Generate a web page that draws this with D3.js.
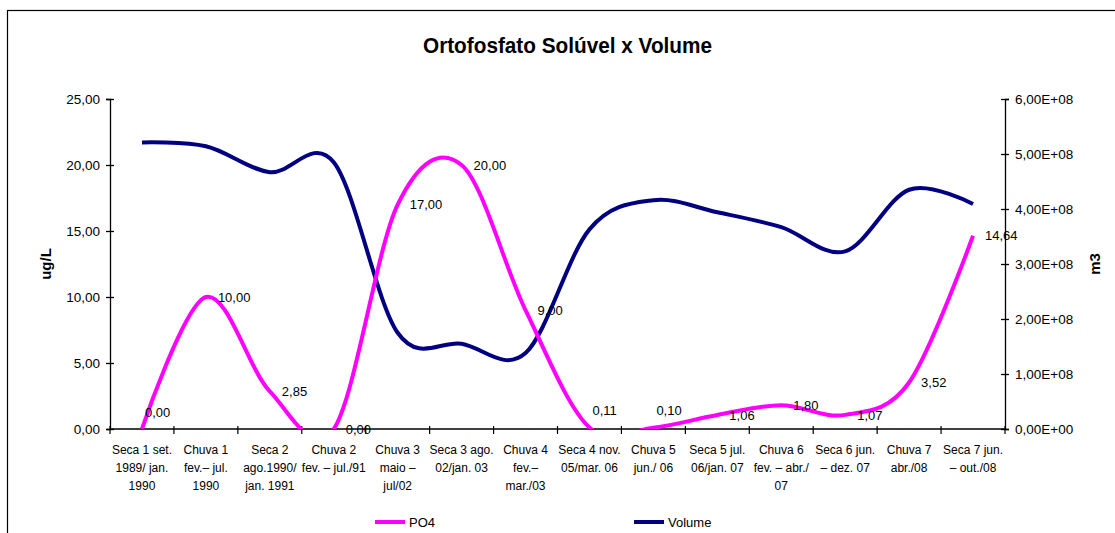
<!DOCTYPE html>
<html>
<head>
<meta charset="utf-8">
<script src="https://cdn.jsdelivr.net/npm/d3@7/dist/d3.min.js"></script>
<style>
  html, body { margin: 0; padding: 0; background: #fff; }
  svg { display: block; font-family: "Liberation Sans", Arial, sans-serif; }
</style>
</head>
<body>
<svg id="chart" width="1115" height="533"></svg>
<script>
// ---- data ----
const categories = [
  "Seca 1 set.\n1989/ jan.\n1990",
  "Chuva 1\nfev.– jul.\n1990",
  "Seca 2\nago.1990/\njan. 1991",
  "Chuva 2\nfev. – jul./91",
  "Chuva 3\nmaio –\njul/02",
  "Seca 3 ago.\n02/jan. 03",
  "Chuva 4\nfev.–\nmar./03",
  "Seca 4 nov.\n05/mar. 06",
  "Chuva 5\njun./ 06",
  "Seca 5 jul.\n06/jan. 07",
  "Chuva 6\nfev. – abr./\n07",
  "Seca 6 jun.\n– dez. 07",
  "Chuva 7\nabr./08",
  "Seca 7 jun.\n– out./08"
];
const po4 = [0.00, 10.00, 2.85, 0.00, 17.00, 20.00, 9.00, 0.11, 0.10, 1.06, 1.80, 1.07, 3.52, 14.64];
const volume = [5.21e8, 5.14e8, 4.67e8, 4.85e8, 1.75e8, 1.55e8, 1.38e8, 3.63e8, 4.16e8, 3.94e8, 3.67e8, 3.23e8, 4.35e8, 4.09e8];
const leftTicks = [0, 5, 10, 15, 20, 25];
const rightTicks = [0, 1e8, 2e8, 3e8, 4e8, 5e8, 6e8];
const seriesNames = ["PO4", "Volume"];
const titleText = "Ortofosfato Solúvel x Volume";
const leftTitle = "ug/L";
const rightTitle = "m3";
const liftedLabels = [0, 7, 8];

// ---- layout ----
const svg = d3.select("#chart");
const plot = { left: 110, right: 1005, top: 99, bottom: 429 };
const pink = "#FF00FF", navy = "#000080";

// outer frame
svg.append("rect")
  .attr("x", 7.5).attr("y", 10.5)
  .attr("width", 1120).attr("height", 600)
  .attr("fill", "none").attr("stroke", "#000").attr("stroke-width", 1.2);

const x = d3.scaleBand().domain(categories).range([plot.left, plot.right]).padding(0);
const xc = c => x(c) + x.bandwidth() / 2;
const yL = d3.scaleLinear().domain([0, 25]).range([plot.bottom, plot.top]);
const yR = d3.scaleLinear().domain([0, 6e8]).range([plot.bottom, plot.top]);

const fmtL = d => d3.format(".2f")(d).replace(".", ",");
const fmtR = d => {
  const s = d3.format(".2e")(d); // e.g. 6.00e+8
  const m = s.split("e");
  let exp = parseInt(m[1], 10);
  const sign = exp < 0 ? "-" : "+";
  exp = Math.abs(exp);
  return m[0].replace(".", ",") + "E" + sign + String(exp).padStart(2, "0");
};

// title
svg.append("text")
  .attr("x", 567.5).attr("y", 53)
  .attr("text-anchor", "middle")
  .attr("font-size", 22).attr("font-weight", "bold")
  .attr("textLength", 289).attr("lengthAdjust", "spacingAndGlyphs")
  .text(titleText);

// left axis
const gL = svg.append("g").attr("transform", `translate(${plot.left},0)`)
  .call(d3.axisLeft(yL).tickValues(leftTicks).tickFormat(fmtL).tickSize(4).tickPadding(6));
gL.selectAll(".tick line").attr("x1", 4).attr("x2", -4).attr("stroke-width", 1.3);
gL.select(".domain").attr("stroke-width", 1.3);
gL.selectAll("text").attr("font-size", 13.5).attr("font-family", "Liberation Sans, Arial, sans-serif").attr("fill", "#000");

// right axis
const gR = svg.append("g").attr("transform", `translate(${plot.right},0)`)
  .call(d3.axisRight(yR).tickValues(rightTicks).tickFormat(fmtR).tickSize(4).tickPadding(6));
gR.selectAll(".tick line").attr("x1", -4).attr("x2", 4).attr("stroke-width", 1.3);
gR.select(".domain").attr("stroke-width", 1.3);
gR.selectAll("text").attr("font-size", 13.5).attr("font-family", "Liberation Sans, Arial, sans-serif").attr("fill", "#000");

// axis titles
svg.append("text")
  .attr("transform", `translate(51,${(plot.top + plot.bottom) / 2}) rotate(-90)`)
  .attr("text-anchor", "middle").attr("font-size", 15).attr("font-weight", "bold")
  .text(leftTitle);
svg.append("text")
  .attr("transform", `translate(1100,${(plot.top + plot.bottom) / 2}) rotate(-90)`)
  .attr("text-anchor", "middle").attr("font-size", 15).attr("font-weight", "bold")
  .text(rightTitle);

// x axis: line and tick marks at band boundaries
const bounds = d3.range(categories.length + 1).map(i => plot.left + i * x.bandwidth());
const gX = svg.append("g");
gX.append("line")
  .attr("x1", plot.left).attr("x2", plot.right)
  .attr("y1", plot.bottom).attr("y2", plot.bottom)
  .attr("stroke", "#000").attr("stroke-width", 1.3);
gX.selectAll("line.tk").data(bounds).join("line").attr("class", "tk")
  .attr("x1", d => d).attr("x2", d => d)
  .attr("y1", plot.bottom - 3).attr("y2", plot.bottom + 5)
  .attr("stroke", "#000").attr("stroke-width", 1.2);

// category labels
const catG = gX.selectAll("text.cat").data(categories).join("text").attr("class", "cat")
  .attr("x", d => xc(d)).attr("y", 454)
  .attr("text-anchor", "middle").attr("font-size", 12).attr("fill", "#000");
catG.each(function (d) {
  const t = d3.select(this);
  d.split("\n").forEach((ln, i) => {
    t.append("tspan").attr("x", xc(d)).attr("dy", i === 0 ? 0 : 18).text(ln);
  });
});

// clip
svg.append("clipPath").attr("id", "plotclip").append("rect")
  .attr("x", plot.left).attr("y", plot.top)
  .attr("width", plot.right - plot.left).attr("height", plot.bottom - plot.top);

const curve = d3.curveCardinal.tension(0);
const linePO4 = d3.line().x((d, i) => xc(categories[i])).y(d => yL(d)).curve(curve);
const lineVol = d3.line().x((d, i) => xc(categories[i])).y(d => yR(d)).curve(curve);

const lines = svg.append("g").attr("clip-path", "url(#plotclip)");
lines.append("path").attr("d", lineVol(volume))
  .attr("fill", "none").attr("stroke", navy).attr("stroke-width", 4);
lines.append("path").attr("d", linePO4(po4))
  .attr("fill", "none").attr("stroke", pink).attr("stroke-width", 4);

// data labels for PO4
svg.append("g").selectAll("text").data(po4).join("text")
  .attr("x", (d, i) => xc(categories[i]) + (liftedLabels.includes(i) ? 3 : 12))
  .attr("y", (d, i) => yL(d) + (liftedLabels.includes(i) ? -17 : 0))
  .attr("dy", "0.36em")
  .attr("font-size", 13).attr("fill", "#000")
  .text(d => fmtL(d));

// legend
const leg = svg.append("g");
const legItems = [
  { name: seriesNames[0], color: pink, x: 375 },
  { name: seriesNames[1], color: navy, x: 634 }
];
legItems.forEach(it => {
  leg.append("line").attr("x1", it.x).attr("x2", it.x + 30)
    .attr("y1", 522).attr("y2", 522)
    .attr("stroke", it.color).attr("stroke-width", 4);
  leg.append("text").attr("x", it.x + 34).attr("y", 522).attr("dy", "0.36em")
    .attr("font-size", 13).text(it.name);
});
</script>
</body>
</html>
